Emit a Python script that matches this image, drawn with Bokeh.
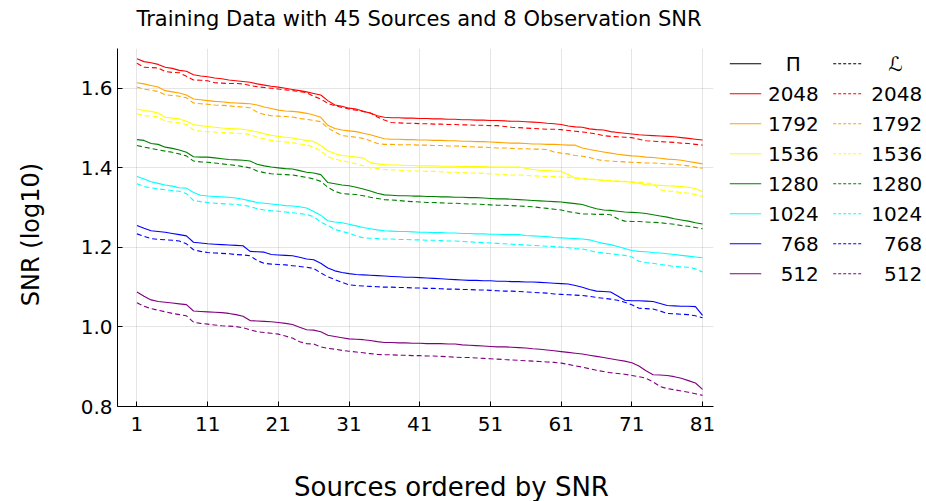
import math
from bokeh.plotting import figure
from bokeh.layouts import row, column
from bokeh.models import Range1d, FixedTicker
from bokeh.embed import file_html
from bokeh.resources import INLINE
from bokeh.core.properties import value

# ---------------- data ----------------
sources = list(range(1, 82))
obs_labels = ["2048", "1792", "1536", "1280", "1024", "768", "512"]
colors = ["red", "orange", "yellow", "green", "cyan", "blue", "purple"]

pi_2048 = [1.674, 1.667, 1.664, 1.660, 1.653, 1.650, 1.645, 1.643, 1.634, 1.631,
           1.629, 1.626, 1.624, 1.621, 1.619, 1.617, 1.615, 1.611, 1.608, 1.605,
           1.603, 1.600, 1.597, 1.594, 1.591, 1.587, 1.583, 1.569, 1.558, 1.555,
           1.550, 1.548, 1.542, 1.538, 1.531, 1.527, 1.526, 1.526, 1.525, 1.525,
           1.524, 1.524, 1.523, 1.523, 1.522, 1.522, 1.521, 1.521, 1.520, 1.520,
           1.519, 1.519, 1.518, 1.517, 1.517, 1.516, 1.515, 1.514, 1.512, 1.511,
           1.509, 1.505, 1.503, 1.502, 1.498, 1.496, 1.495, 1.491, 1.489, 1.487,
           1.485, 1.483, 1.482, 1.481, 1.480, 1.479, 1.478, 1.476, 1.474, 1.472,
           1.470]
l_2048 = [1.663, 1.653, 1.652, 1.651, 1.642, 1.640, 1.639, 1.630, 1.621, 1.620,
          1.619, 1.614, 1.613, 1.612, 1.612, 1.611, 1.607, 1.604, 1.602, 1.600,
          1.598, 1.596, 1.594, 1.592, 1.589, 1.580, 1.573, 1.562, 1.556, 1.552,
          1.548, 1.545, 1.542, 1.538, 1.528, 1.520, 1.514, 1.513, 1.512, 1.512,
          1.511, 1.511, 1.510, 1.510, 1.509, 1.509, 1.508, 1.508, 1.507, 1.507,
          1.506, 1.506, 1.504, 1.502, 1.501, 1.500, 1.499, 1.498, 1.497, 1.497,
          1.496, 1.494, 1.492, 1.490, 1.488, 1.485, 1.481, 1.479, 1.478, 1.477,
          1.476, 1.472, 1.468, 1.467, 1.466, 1.465, 1.464, 1.462, 1.461, 1.459,
          1.457]
pi_1792 = [1.614, 1.611, 1.607, 1.603, 1.594, 1.591, 1.588, 1.583, 1.573, 1.571,
           1.569, 1.567, 1.566, 1.564, 1.563, 1.562, 1.561, 1.558, 1.553, 1.549,
           1.545, 1.543, 1.542, 1.540, 1.537, 1.533, 1.527, 1.507, 1.499, 1.495,
           1.493, 1.491, 1.487, 1.483, 1.478, 1.473, 1.472, 1.472, 1.471, 1.471,
           1.470, 1.470, 1.469, 1.469, 1.468, 1.468, 1.467, 1.467, 1.466, 1.466,
           1.465, 1.464, 1.463, 1.462, 1.462, 1.461, 1.460, 1.460, 1.459, 1.459,
           1.458, 1.457, 1.457, 1.450, 1.446, 1.443, 1.440, 1.437, 1.434, 1.432,
           1.430, 1.429, 1.427, 1.426, 1.424, 1.422, 1.421, 1.419, 1.416, 1.413,
           1.410]
l_1792 = [1.603, 1.598, 1.595, 1.592, 1.584, 1.582, 1.580, 1.576, 1.563, 1.561,
          1.560, 1.558, 1.557, 1.556, 1.554, 1.553, 1.551, 1.540, 1.534, 1.531,
          1.530, 1.529, 1.528, 1.524, 1.522, 1.519, 1.516, 1.500, 1.490, 1.481,
          1.479, 1.477, 1.474, 1.468, 1.461, 1.459, 1.459, 1.458, 1.458, 1.458,
          1.457, 1.457, 1.456, 1.456, 1.455, 1.455, 1.454, 1.453, 1.452, 1.452,
          1.451, 1.450, 1.450, 1.449, 1.448, 1.448, 1.447, 1.447, 1.446, 1.440,
          1.437, 1.435, 1.431, 1.429, 1.426, 1.421, 1.418, 1.417, 1.416, 1.415,
          1.414, 1.413, 1.412, 1.412, 1.411, 1.410, 1.409, 1.407, 1.405, 1.402,
          1.399]
pi_1536 = [1.548, 1.544, 1.542, 1.538, 1.527, 1.525, 1.523, 1.517, 1.509, 1.506,
           1.504, 1.502, 1.500, 1.499, 1.498, 1.497, 1.494, 1.490, 1.486, 1.482,
           1.479, 1.477, 1.475, 1.472, 1.469, 1.466, 1.456, 1.443, 1.436, 1.431,
           1.429, 1.427, 1.425, 1.413, 1.410, 1.408, 1.407, 1.407, 1.406, 1.406,
           1.405, 1.405, 1.405, 1.404, 1.404, 1.404, 1.403, 1.403, 1.403, 1.403,
           1.402, 1.402, 1.402, 1.402, 1.402, 1.399, 1.396, 1.394, 1.393, 1.392,
           1.391, 1.383, 1.374, 1.372, 1.371, 1.370, 1.368, 1.367, 1.366, 1.365,
           1.364, 1.361, 1.358, 1.357, 1.356, 1.355, 1.354, 1.353, 1.351, 1.348,
           1.340]
l_1536 = [1.536, 1.531, 1.530, 1.528, 1.517, 1.515, 1.513, 1.509, 1.495, 1.492,
          1.491, 1.490, 1.489, 1.488, 1.487, 1.486, 1.484, 1.477, 1.473, 1.469,
          1.467, 1.465, 1.463, 1.460, 1.458, 1.452, 1.443, 1.428, 1.422, 1.418,
          1.414, 1.410, 1.405, 1.400, 1.398, 1.396, 1.395, 1.394, 1.393, 1.392,
          1.392, 1.391, 1.391, 1.390, 1.389, 1.389, 1.388, 1.387, 1.387, 1.386,
          1.385, 1.384, 1.383, 1.382, 1.382, 1.381, 1.380, 1.379, 1.378, 1.378,
          1.377, 1.376, 1.375, 1.374, 1.372, 1.370, 1.369, 1.368, 1.367, 1.366,
          1.365, 1.364, 1.362, 1.360, 1.345, 1.342, 1.340, 1.338, 1.336, 1.333,
          1.328]
pi_1280 = [1.471, 1.469, 1.461, 1.459, 1.452, 1.449, 1.445, 1.439, 1.428, 1.427,
           1.427, 1.425, 1.423, 1.421, 1.420, 1.419, 1.417, 1.409, 1.405, 1.402,
           1.400, 1.398, 1.397, 1.393, 1.389, 1.387, 1.383, 1.363, 1.360, 1.357,
           1.355, 1.351, 1.347, 1.342, 1.336, 1.332, 1.331, 1.330, 1.330, 1.329,
           1.329, 1.328, 1.328, 1.327, 1.327, 1.326, 1.326, 1.325, 1.325, 1.324,
           1.323, 1.322, 1.322, 1.321, 1.320, 1.319, 1.318, 1.317, 1.316, 1.315,
           1.314, 1.312, 1.310, 1.308, 1.302, 1.297, 1.294, 1.293, 1.291, 1.289,
           1.288, 1.287, 1.285, 1.282, 1.279, 1.276, 1.272, 1.269, 1.266, 1.262,
           1.259]
l_1280 = [1.456, 1.452, 1.449, 1.445, 1.442, 1.439, 1.435, 1.430, 1.417, 1.415,
          1.414, 1.412, 1.410, 1.408, 1.406, 1.403, 1.400, 1.392, 1.388, 1.385,
          1.384, 1.383, 1.382, 1.379, 1.376, 1.372, 1.366, 1.351, 1.341, 1.335,
          1.334, 1.333, 1.330, 1.326, 1.323, 1.320, 1.319, 1.318, 1.316, 1.315,
          1.314, 1.313, 1.313, 1.312, 1.311, 1.311, 1.310, 1.309, 1.309, 1.308,
          1.307, 1.306, 1.306, 1.305, 1.304, 1.303, 1.302, 1.300, 1.298, 1.296,
          1.294, 1.290, 1.287, 1.284, 1.284, 1.283, 1.283, 1.282, 1.272, 1.266,
          1.265, 1.265, 1.264, 1.263, 1.262, 1.260, 1.258, 1.255, 1.253, 1.250,
          1.247]
pi_1024 = [1.378, 1.372, 1.365, 1.361, 1.357, 1.354, 1.350, 1.349, 1.338, 1.331,
           1.329, 1.328, 1.327, 1.326, 1.324, 1.321, 1.317, 1.313, 1.311, 1.309,
           1.307, 1.305, 1.304, 1.302, 1.299, 1.290, 1.281, 1.267, 1.264, 1.262,
           1.258, 1.254, 1.250, 1.247, 1.244, 1.242, 1.241, 1.240, 1.240, 1.239,
           1.238, 1.238, 1.237, 1.237, 1.236, 1.236, 1.235, 1.235, 1.234, 1.234,
           1.233, 1.233, 1.232, 1.232, 1.232, 1.230, 1.229, 1.228, 1.227, 1.225,
           1.224, 1.223, 1.222, 1.221, 1.219, 1.214, 1.210, 1.207, 1.202, 1.197,
           1.192, 1.190, 1.189, 1.187, 1.186, 1.184, 1.182, 1.180, 1.178, 1.176,
           1.174]
l_1024 = [1.360, 1.353, 1.350, 1.347, 1.345, 1.343, 1.341, 1.335, 1.318, 1.315,
          1.313, 1.311, 1.310, 1.309, 1.308, 1.306, 1.303, 1.297, 1.294, 1.292,
          1.291, 1.289, 1.287, 1.285, 1.283, 1.277, 1.264, 1.255, 1.245, 1.240,
          1.236, 1.229, 1.224, 1.223, 1.222, 1.221, 1.221, 1.220, 1.220, 1.219,
          1.219, 1.218, 1.218, 1.217, 1.216, 1.216, 1.215, 1.214, 1.213, 1.212,
          1.211, 1.210, 1.209, 1.208, 1.207, 1.206, 1.205, 1.204, 1.203, 1.202,
          1.201, 1.199, 1.197, 1.196, 1.192, 1.188, 1.186, 1.184, 1.182, 1.180,
          1.176, 1.165, 1.162, 1.160, 1.157, 1.155, 1.152, 1.151, 1.150, 1.146,
          1.138]
pi_768 = [1.255, 1.248, 1.242, 1.240, 1.238, 1.235, 1.232, 1.229, 1.213, 1.211,
          1.209, 1.208, 1.207, 1.206, 1.205, 1.204, 1.190, 1.189, 1.188, 1.182,
          1.181, 1.180, 1.179, 1.175, 1.171, 1.169, 1.160, 1.148, 1.141, 1.137,
          1.134, 1.132, 1.131, 1.130, 1.129, 1.128, 1.127, 1.126, 1.125, 1.125,
          1.124, 1.123, 1.122, 1.121, 1.120, 1.119, 1.118, 1.117, 1.117, 1.116,
          1.116, 1.115, 1.115, 1.114, 1.114, 1.113, 1.113, 1.112, 1.111, 1.110,
          1.109, 1.108, 1.104, 1.100, 1.094, 1.090, 1.089, 1.088, 1.078, 1.067,
          1.066, 1.066, 1.065, 1.064, 1.059, 1.054, 1.053, 1.052, 1.052, 1.051,
          1.029]
l_768 = [1.234, 1.228, 1.222, 1.220, 1.219, 1.218, 1.216, 1.209, 1.194, 1.190,
         1.187, 1.186, 1.185, 1.184, 1.182, 1.181, 1.179, 1.167, 1.160, 1.158,
         1.157, 1.156, 1.154, 1.152, 1.150, 1.147, 1.136, 1.126, 1.119, 1.112,
         1.106, 1.104, 1.103, 1.102, 1.101, 1.100, 1.100, 1.099, 1.099, 1.098,
         1.098, 1.097, 1.097, 1.096, 1.095, 1.095, 1.094, 1.094, 1.093, 1.093,
         1.092, 1.091, 1.090, 1.090, 1.089, 1.088, 1.087, 1.086, 1.085, 1.083,
         1.082, 1.081, 1.080, 1.079, 1.077, 1.074, 1.072, 1.070, 1.067, 1.062,
         1.056, 1.047, 1.046, 1.045, 1.040, 1.034, 1.033, 1.032, 1.031, 1.028,
         1.023]
pi_512 = [1.088, 1.077, 1.068, 1.064, 1.062, 1.060, 1.058, 1.056, 1.040, 1.039,
          1.038, 1.037, 1.036, 1.034, 1.031, 1.027, 1.016, 1.015, 1.014, 1.013,
          1.011, 1.009, 1.006, 0.999, 0.993, 0.992, 0.988, 0.979, 0.976, 0.973,
          0.970, 0.969, 0.968, 0.966, 0.963, 0.961, 0.961, 0.960, 0.960, 0.959,
          0.959, 0.958, 0.958, 0.958, 0.957, 0.957, 0.955, 0.954, 0.953, 0.952,
          0.951, 0.950, 0.950, 0.949, 0.948, 0.947, 0.945, 0.944, 0.942, 0.940,
          0.938, 0.936, 0.934, 0.932, 0.929, 0.926, 0.923, 0.920, 0.917, 0.914,
          0.910, 0.902, 0.890, 0.880, 0.879, 0.878, 0.875, 0.871, 0.865, 0.859,
          0.843]
l_512 = [1.061, 1.052, 1.046, 1.042, 1.038, 1.034, 1.031, 1.028, 1.012, 1.009,
         1.007, 1.005, 1.003, 1.002, 1.001, 0.998, 0.993, 0.988, 0.986, 0.984,
         0.982, 0.977, 0.972, 0.963, 0.958, 0.957, 0.950, 0.946, 0.944, 0.941,
         0.939, 0.937, 0.935, 0.933, 0.931, 0.930, 0.930, 0.929, 0.929, 0.928,
         0.928, 0.927, 0.927, 0.926, 0.925, 0.924, 0.923, 0.923, 0.922, 0.921,
         0.920, 0.919, 0.918, 0.917, 0.916, 0.915, 0.914, 0.913, 0.912, 0.911,
         0.909, 0.906, 0.902, 0.899, 0.895, 0.891, 0.888, 0.885, 0.883, 0.881,
         0.878, 0.875, 0.871, 0.862, 0.850, 0.845, 0.842, 0.839, 0.836, 0.832,
         0.828]

pi_series = [pi_2048, pi_1792, pi_1536, pi_1280, pi_1024, pi_768, pi_512]
l_series = [l_2048, l_1792, l_1536, l_1280, l_1024, l_768, l_512]

x_ticks = [1, 11, 21, 31, 41, 51, 61, 71, 81]
y_ticks = [0.8, 1.0, 1.2, 1.4, 1.6]
y_tick_labels = ["0.8", "1.0", "1.2", "1.4", "1.6"]

title_text = "Training Data with 45 Sources and 8 Observation SNR"
xlabel_text = "Sources ordered by SNR"
ylabel_text = "SNR (log10)"

FONT = "DejaVu Sans"
DASH = "5 3"

# ---------------- page geometry (pixels) ----------------
W, H = 926, 501
TOP_H = 40            # title strip
BOT_H = 41            # x-label strip
MID_H = H - TOP_H - BOT_H
YL_W = 50             # y-label strip
LEG_W = 206
MAIN_W = W - YL_W - LEG_W
FR_LEFT, FR_RIGHT, FR_TOP, FR_BOTTOM = 117, 713, 48, 406


def strip(width, height, xr, yr):
    f = figure(width=width, height=height, output_backend="svg",
               toolbar_location=None, x_range=Range1d(*xr), y_range=Range1d(*yr),
               x_axis_location=None, y_axis_location=None,
               min_border_left=0, min_border_right=0,
               min_border_top=0, min_border_bottom=0)
    f.frame_align = False
    f.outline_line_color = None
    f.grid.visible = False
    f.background_fill_color = "white"
    f.border_fill_color = "white"
    return f


# ---------------- main plot ----------------
p = figure(width=MAIN_W, height=MID_H, output_backend="svg", toolbar_location=None,
           x_range=Range1d(-1.75, 82.55), y_range=Range1d(0.8, 1.7),
           min_border_left=FR_LEFT - YL_W, min_border_right=YL_W + MAIN_W - FR_RIGHT,
           min_border_top=FR_TOP - TOP_H, min_border_bottom=TOP_H + MID_H - FR_BOTTOM)
p.outline_line_color = None
p.background_fill_color = "white"
p.border_fill_color = "white"

for ax in (p.xaxis[0], p.yaxis[0]):
    ax.axis_line_color = "black"
    ax.axis_line_width = 1
    ax.major_tick_in = 5
    ax.major_tick_out = 0
    ax.minor_tick_line_color = None
    ax.major_tick_line_color = "black"
    ax.major_label_text_font = FONT
    ax.major_label_text_font_size = "20px"
    ax.major_label_text_color = "black"

p.xaxis.ticker = FixedTicker(ticks=x_ticks)
p.yaxis.ticker = FixedTicker(ticks=y_ticks)
p.yaxis.major_label_overrides = {t: s for t, s in zip(y_ticks, y_tick_labels)}
p.xaxis.major_label_standoff = 10
p.yaxis.major_label_standoff = 5

p.xgrid.ticker = FixedTicker(ticks=x_ticks)
p.ygrid.ticker = FixedTicker(ticks=y_ticks)
p.grid.grid_line_color = "black"
p.grid.grid_line_alpha = 0.1
p.grid.grid_line_width = 1

for ys, c in zip(pi_series, colors):
    p.line(sources, ys, line_color=c, line_width=1.1)
for ys, c in zip(l_series, colors):
    p.line(sources, ys, line_color=c, line_width=1.1, line_dash=DASH)

# ---------------- title strip (page pixel coordinates) ----------------
top = strip(W, TOP_H, (0, W), (TOP_H, 0))
top.text(x=[418.5], y=[18], text=[title_text], text_align="center",
         text_baseline="middle", text_font=value(FONT),
         text_font_size=value("21px"), text_color="black")

# ---------------- y-label strip ----------------
yl = strip(YL_W, MID_H, (0, YL_W), (TOP_H + MID_H, TOP_H))
yl.text(x=[30], y=[234], text=[ylabel_text], angle=math.pi / 2,
        text_align="center", text_baseline="middle", text_font=value(FONT),
        text_font_size=value("24px"), text_color="black")

# ---------------- legend panel ----------------
leg = strip(LEG_W, MID_H, (YL_W + MAIN_W, W), (TOP_H + MID_H, TOP_H))
row_y = [63.3 + 30 * k for k in range(8)]
leg_colors = ["black"] + colors
col1_text = ["Π"] + obs_labels
col2_text = ["ℒ"] + obs_labels

leg.segment(x0=[729.3] * 8, y0=row_y, x1=[760.7] * 8, y1=row_y,
            line_color=leg_colors, line_width=1.1)
leg.segment(x0=[832.7] * 8, y0=row_y, x1=[861.7] * 8, y1=row_y,
            line_color=leg_colors, line_width=1.1, line_dash="3 2")
leg.text(x=[792.7], y=row_y[:1], text=col1_text[:1], text_align="center",
         text_baseline="middle", text_font=value(FONT),
         text_font_size=value("20px"), text_color="black")
leg.text(x=[818.3] * 7, y=row_y[1:], text=col1_text[1:], text_align="right",
         text_baseline="middle", text_font=value(FONT),
         text_font_size=value("20px"), text_color="black")
leg.text(x=[895.0], y=row_y[:1], text=col2_text[:1], text_align="center",
         text_baseline="middle", text_font=value(FONT),
         text_font_size=value("20px"), text_color="black")
leg.text(x=[921.7] * 7, y=row_y[1:], text=col2_text[1:], text_align="right",
         text_baseline="middle", text_font=value(FONT),
         text_font_size=value("20px"), text_color="black")

# ---------------- x-label strip ----------------
bot = strip(W, BOT_H, (0, W), (H, H - BOT_H))
bot.text(x=[451], y=[486], text=[xlabel_text], text_align="center",
         text_baseline="middle", text_font=value(FONT),
         text_font_size=value("26px"), text_color="black")

layout = column(top, row(yl, p, leg, spacing=0), bot, spacing=0)
open("out.html", "w").write(file_html(layout, INLINE))
